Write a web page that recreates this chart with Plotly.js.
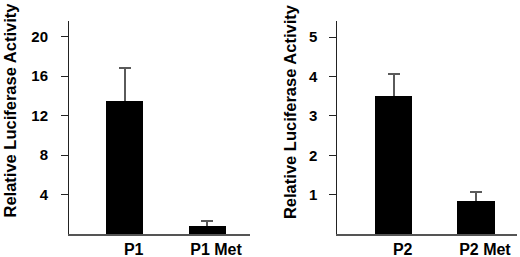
<!DOCTYPE html>
<html>
<head>
<meta charset="utf-8">
<script src="https://cdn.plot.ly/plotly-3.0.1.min.js"></script>
<style>html,body{margin:0;padding:0;background:#fff;}#chart{width:520px;height:257px;}</style>
</head>
<body>
<div id="chart"></div>
<script>
// Data
var categoriesLeft = ['P1', 'P1 Met'];
var valuesLeft = [13.45, 0.8];
var errorsLeft = [3.38, 0.55];
var categoriesRight = ['P2', 'P2 Met'];
var valuesRight = [3.50, 0.83];
var errorsRight = [0.56, 0.24];
var ticksLeft = [4, 8, 12, 16, 20];
var ticksRight = [1, 2, 3, 4, 5];
var yTitle = 'Relative Luciferase Activity';

var FONT = 'Liberation Sans, Arial, Helvetica, sans-serif';

// error bars drawn on a transparent bar trace underneath; the black bars cover the lower half
function errTrace(cats, vals, errs, xa, ya, w) {
  return {
    type: 'bar', x: cats, y: vals, xaxis: xa, yaxis: ya, width: w,
    marker: {color: 'rgba(0,0,0,0)', line: {width: 0}},
    error_y: {type: 'data', array: errs, symmetric: true,
              color: '#5a5a5a', thickness: 2, width: 6},
    hoverinfo: 'none', showlegend: false
  };
}
function barTrace(cats, vals, xa, ya, w) {
  return {
    type: 'bar', x: cats, y: vals, xaxis: xa, yaxis: ya, width: w,
    marker: {color: '#000000', line: {width: 0}},
    hoverinfo: 'none', showlegend: false
  };
}

var data = [
  errTrace(categoriesLeft, valuesLeft, errorsLeft, 'x', 'y', 0.45),
  barTrace(categoriesLeft, valuesLeft, 'x', 'y', 0.45),
  errTrace(categoriesRight, valuesRight, errorsRight, 'x2', 'y2', 0.455),
  barTrace(categoriesRight, valuesRight, 'x2', 'y2', 0.455)
];

var yDomain = [0.0895, 0.9183];
var yTickFont = {family: FONT, size: 15, color: '#000', weight: 'bold'};
var xTickFont = {family: FONT, size: 16, color: '#000', weight: 'bold'};

function xAxis(domain, range, anchor) {
  return {domain: domain, range: range, anchor: anchor, type: 'category',
          showline: true, linecolor: '#555', linewidth: 2, ticks: '',
          showgrid: false, zeroline: false, tickfont: xTickFont,
          ticklabelshift: 9, ticklabelstandoff: 0, fixedrange: true};
}
function yAxis(range, anchor, tv, standoff) {
  return {domain: yDomain, range: range, anchor: anchor,
          tickvals: tv, ticks: 'outside', ticklen: 7, tickwidth: 1, tickcolor: '#222',
          showline: true, linecolor: '#222', linewidth: 1,
          showgrid: false, zeroline: false, tickfont: yTickFont,
          ticklabelstandoff: standoff, fixedrange: true};
}
function yOverlay(range, anchor, over, tv) {
  return {domain: yDomain, range: range, anchor: anchor, overlaying: over,
          tickvals: tv, ticks: 'inside', ticklen: 7, tickwidth: 1, tickcolor: '#222',
          showline: false, showgrid: false, zeroline: false, showticklabels: false,
          fixedrange: true};
}

var layout = {
  width: 520, height: 257,
  margin: {l: 0, r: 0, t: 0, b: 0},
  paper_bgcolor: '#fff', plot_bgcolor: '#fff',
  barmode: 'overlay',
  bargap: 0,
  font: {family: FONT, color: '#000'},
  xaxis: xAxis([0.1327, 0.4808], [-0.677, 1.522], 'y'),
  yaxis: yAxis([0, 21.6], 'x', ticksLeft, 10),
  yaxis3: yOverlay([0, 21.6], 'x', 'y', ticksLeft),
  xaxis2: xAxis([0.6487, 0.994], [-0.685, 1.498], 'y2'),
  yaxis2: yAxis([0, 5.41], 'x2', ticksRight, 9),
  yaxis4: yOverlay([0, 5.41], 'x2', 'y2', ticksRight),
  annotations: [
    {text: yTitle, xref: 'paper', yref: 'paper', x: 0.0183, y: 0.572,
     xanchor: 'center', yanchor: 'middle', textangle: -90, showarrow: false,
     font: {family: FONT, size: 16.5, color: '#000', weight: 'bold'}},
    {text: yTitle, xref: 'paper', yref: 'paper', x: 0.5577, y: 0.564,
     xanchor: 'center', yanchor: 'middle', textangle: -90, showarrow: false,
     font: {family: FONT, size: 16.5, color: '#000', weight: 'bold'}}
  ]
};

Plotly.newPlot('chart', data, layout, {displayModeBar: false, staticPlot: true});
</script>
</body>
</html>
